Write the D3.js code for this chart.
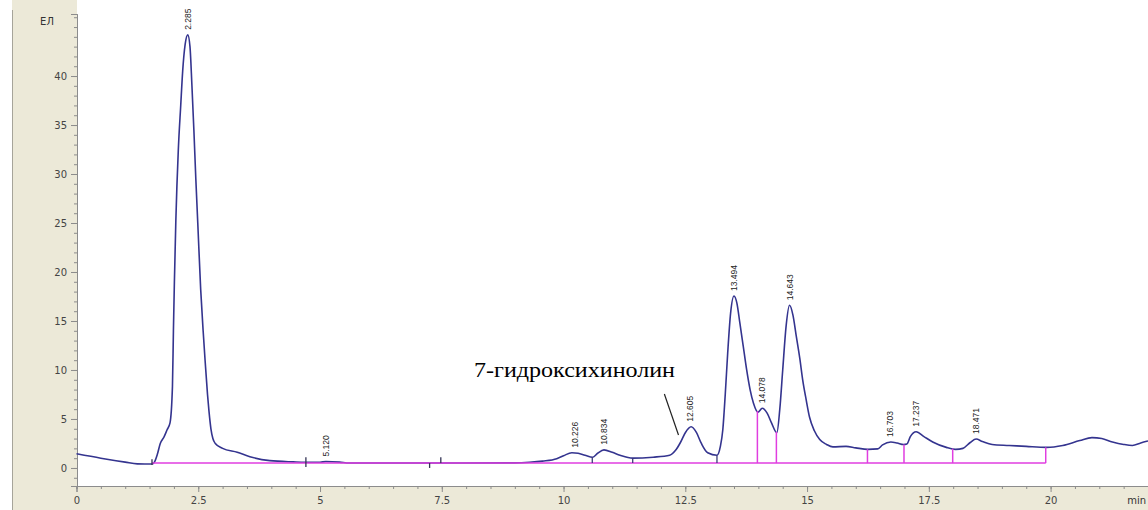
<!DOCTYPE html>
<html>
<head>
<meta charset="utf-8">
<script src="https://cdn.jsdelivr.net/npm/d3@7"></script>
<style>
  html, body { margin: 0; padding: 0; background: #fff; }
  svg { display: block; }
  .axis text { font-family: Tahoma, "DejaVu Sans", sans-serif; font-size: 10px; fill: #444; }
</style>
</head>
<body>
<div id="chart"></div>
<script>
// retention time (min) and detector signal (ЕЛ)
const times = [
  0.00, 0.50, 1.00, 1.25, 1.55, 1.60, 1.66, 1.72, 1.80, 1.86, 1.92, 1.97, 1.99, 2.01, 2.04,
  2.09, 2.14, 2.18, 2.23, 2.285, 2.33, 2.37, 2.41, 2.45, 2.49, 2.55, 2.60, 2.64, 2.69, 2.72,
  2.76, 2.80, 2.85, 3.00, 3.30, 3.56, 3.97, 4.45, 4.70, 5.00, 5.12, 5.40, 5.60, 7.00, 9.00,
  9.30, 9.57, 9.86, 10.00, 10.17, 10.30, 10.44, 10.60, 10.70, 10.83, 11.00, 11.16, 11.42, 11.84, 12.18,
  12.30, 12.40, 12.50, 12.62, 12.73, 12.83, 12.96, 13.15, 13.22, 13.27, 13.32, 13.37, 13.43, 13.50, 13.56,
  13.62, 13.69, 13.76, 13.83, 13.90, 13.99, 14.08, 14.18, 14.27, 14.38, 14.44, 14.50, 14.57, 14.64, 14.71,
  14.78, 14.85, 14.91, 14.98, 15.05, 15.15, 15.26, 15.40, 15.53, 15.80, 16.00, 16.25, 16.45, 16.55, 16.72,
  16.85, 16.98, 17.05, 17.12, 17.24, 17.40, 17.58, 17.86, 18.05, 18.20, 18.35, 18.47, 18.60, 18.80, 19.15,
  19.50, 19.92, 20.25, 20.60, 20.85, 21.05, 21.27, 21.50, 21.68, 21.85, 22.00
]
const signal = [
  1.45, 1.00, 0.60, 0.42, 0.40, 0.60, 1.40, 2.50, 3.20, 3.90, 4.60, 8.30, 14.0, 19.0, 25.3,
  32.4, 37.0, 40.5, 43.2, 44.2, 43.0, 39.0, 34.5, 29.5, 25.0, 18.2, 14.0, 11.0, 7.50, 5.80,
  4.00, 3.00, 2.50, 2.00, 1.60, 1.15, 0.75, 0.62, 0.58, 0.58, 0.66, 0.60, 0.50, 0.50, 0.52,
  0.58, 0.70, 0.95, 1.25, 1.55, 1.50, 1.30, 1.10, 1.50, 1.85, 1.60, 1.30, 1.00, 1.10, 1.30,
  1.80, 2.60, 3.60, 4.20, 3.60, 2.50, 1.55, 1.30, 2.20, 3.90, 7.50, 11.7, 15.8, 17.55, 16.8,
  14.8, 12.4, 10.0, 8.00, 6.60, 5.70, 6.10, 5.60, 4.60, 3.60, 6.00, 10.0, 14.5, 16.6, 15.6,
  13.4, 11.2, 9.00, 7.00, 5.20, 3.80, 2.90, 2.40, 2.15, 2.20, 2.05, 1.90, 1.95, 2.35, 2.65,
  2.55, 2.40, 2.45, 3.20, 3.70, 3.20, 2.65, 2.10, 1.90, 2.00, 2.60, 2.95, 2.70, 2.40, 2.30,
  2.20, 2.10, 2.30, 2.80, 3.10, 3.00, 2.65, 2.40, 2.30, 2.55, 2.75
]

// integrated peaks
const peakTimes = [2.285, 5.12, 10.226, 10.834, 12.605, 13.494, 14.078, 14.643, 16.703, 17.237, 18.471]
const peakLabels = ['2.285', '5.120', '10.226', '10.834', '12.605', '13.494', '14.078', '14.643', '16.703', '17.237', '18.471']
const peakHeights = [44.2, 0.66, 1.55, 1.85, 4.2, 17.55, 6.1, 16.6, 2.65, 3.7, 2.95]

// integration baseline and peak boundaries
const baseLine = [[1.55, 0.5], [19.9, 0.5]]
const dropPink = [13.98, 14.37, 16.24, 16.99, 17.99, 19.9]
const dropDark = [10.59, 11.42, 13.15]
const marks = [[1.55, 0.3, 0.9], [4.71, 0.1, 1.1], [7.25, 0.0, 0.5], [7.48, 0.5, 1.1]]

// axis ticks
const xTicks = [0, 2.5, 5, 7.5, 10, 12.5, 15, 17.5, 20]
const yTicks = [0, 5, 10, 15, 20, 25, 30, 35, 40]

const annotation = { text: '7-гидроксихинолин', from: [12.07, 7.55], to: [12.36, 3.37] }

const width = 1148
const height = 510
const left = 77
const bottom = 486

const svg = d3.select('#chart')
  .append('svg')
  .attr('width', width)
  .attr('height', height)

const x = d3.scaleLinear().domain([0, 22]).range([left - 0.5, 1148])
const y = d3.scaleLinear().domain([-1.84, 46.33]).range([bottom, 14])

// beige frame like the instrument software
svg.append('rect').attr('x', 12).attr('y', 0).attr('width', left - 12).attr('height', height).attr('fill', '#ece9d8')
svg.append('rect').attr('x', 12).attr('y', bottom).attr('width', width - 12).attr('height', height - bottom).attr('fill', '#ece9d8')
svg.append('line').attr('x1', 12.5).attr('x2', 12.5).attr('y1', 10).attr('y2', height)
  .attr('stroke', '#a6a49a').attr('stroke-width', 1)

// axes
const xAxis = d3.axisBottom(x).tickValues(xTicks).tickSize(6).tickPadding(5).tickFormat(d => d)
const xMinor = d3.axisBottom(x).tickValues(d3.range(0, 22.01, 0.5)).tickSize(3).tickFormat('')
const yAxis = d3.axisLeft(y).tickValues(yTicks).tickSize(6).tickPadding(4)
const yMinor = d3.axisLeft(y).tickValues(d3.range(-1, 46.01, 1)).tickSize(3).tickFormat('')

svg.append('g').attr('class', 'axis').attr('transform', `translate(0,${bottom})`).call(xMinor)
svg.append('g').attr('class', 'axis').attr('transform', `translate(0,${bottom})`).call(xAxis)
svg.append('g').attr('class', 'axis').attr('transform', `translate(${left},0)`).call(yMinor)
svg.append('g').attr('class', 'axis').attr('transform', `translate(${left},0)`).call(yAxis)
svg.selectAll('.axis path').attr('stroke', '#8c8c8c')
svg.selectAll('.axis line').attr('stroke', '#8c8c8c')

svg.append('text').attr('x', 47).attr('y', 25).attr('text-anchor', 'middle')
  .attr('font-family', 'Tahoma, "DejaVu Sans", sans-serif').attr('font-size', 10).attr('fill', '#333')
  .text('ЕЛ')
svg.append('text').attr('x', 1146).attr('y', 504).attr('text-anchor', 'end')
  .attr('font-family', 'Tahoma, "DejaVu Sans", sans-serif').attr('font-size', 10).attr('fill', '#333')
  .text('min')

// chromatogram trace
const trace = times.map((t, i) => [t, signal[i]])
const valueAt = t => {
  const i = d3.bisector(d => d[0]).left(trace, t)
  if (i <= 0) return trace[0][1]
  const a = trace[i - 1]
  const b = trace[i]
  return a[1] + (b[1] - a[1]) * (t - a[0]) / (b[0] - a[0])
}

svg.append('path')
  .datum(trace)
  .attr('fill', 'none')
  .attr('stroke', '#34348f')
  .attr('stroke-width', 1.6)
  .attr('stroke-linejoin', 'round')
  .attr('d', d3.line().x(d => x(d[0])).y(d => y(d[1])).curve(d3.curveMonotoneX))

// integration baseline + drop lines
svg.append('path')
  .datum(baseLine)
  .attr('fill', 'none')
  .attr('stroke', '#e03ee0')
  .attr('stroke-width', 1.5)
  .attr('d', d3.line().x(d => x(d[0])).y(d => y(d[1])))

svg.selectAll('.drop-pink')
  .data(dropPink)
  .enter()
  .append('line')
  .attr('x1', d => x(d)).attr('x2', d => x(d))
  .attr('y1', y(0.5)).attr('y2', d => y(valueAt(d)))
  .attr('stroke', '#e03ee0')
  .attr('stroke-width', 1.5)

svg.selectAll('.drop-dark')
  .data(dropDark)
  .enter()
  .append('line')
  .attr('x1', d => x(d)).attr('x2', d => x(d))
  .attr('y1', y(0.5)).attr('y2', d => y(valueAt(d)))
  .attr('stroke', '#3c3c7a')
  .attr('stroke-width', 1.3)

svg.selectAll('.mark')
  .data(marks)
  .enter()
  .append('line')
  .attr('x1', d => x(d[0])).attr('x2', d => x(d[0]))
  .attr('y1', d => y(d[1])).attr('y2', d => y(d[2]))
  .attr('stroke', '#333355')
  .attr('stroke-width', 1.3)

// peak retention-time labels
svg.selectAll('.peak-label')
  .data(peakTimes)
  .enter()
  .append('text')
  .attr('transform', (d, i) => `translate(${x(d) + 3},${y(peakHeights[i]) - 5}) rotate(-90)`)
  .attr('font-family', '"Liberation Sans", Arial, sans-serif')
  .attr('font-size', 8.5)
  .attr('fill', '#222')
  .text((d, i) => peakLabels[i])

// compound annotation
svg.append('text')
  .attr('x', 474)
  .attr('y', 377)
  .attr('font-family', '"Liberation Serif", "Times New Roman", serif')
  .attr('font-size', 22)
  .attr('textLength', 201)
  .attr('lengthAdjust', 'spacingAndGlyphs')
  .attr('fill', '#000')
  .text(annotation.text)
svg.append('line')
  .attr('x1', x(annotation.from[0])).attr('y1', y(annotation.from[1]))
  .attr('x2', x(annotation.to[0])).attr('y2', y(annotation.to[1]))
  .attr('stroke', '#222')
  .attr('stroke-width', 1.2)
</script>
</body>
</html>
